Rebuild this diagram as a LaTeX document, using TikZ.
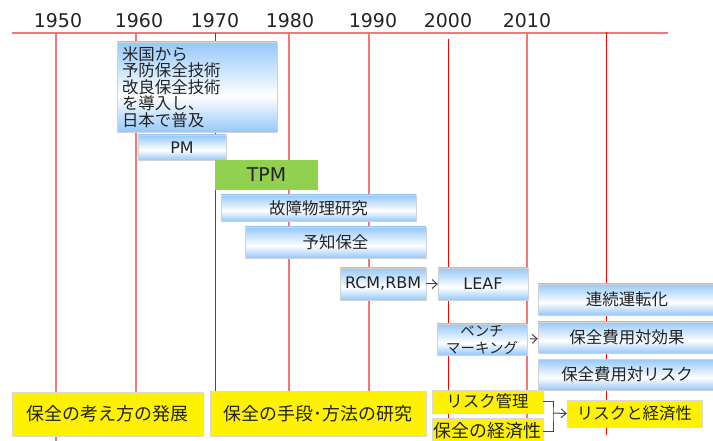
\documentclass[tikz,border=0pt]{standalone}
\usepackage{fontspec}
\usetikzlibrary{arrows.meta}
\setmainfont{Noto Sans CJK JP}
\newfontfamily\latinfont{DejaVu Sans}
\newcommand\boxfont[2]{\fontsize{#1}{#2}\selectfont}
\definecolor{linered}{RGB}{242,120,120}
\definecolor{boxblue}{RGB}{150,200,250}
\definecolor{tpmgreen}{RGB}{146,208,80}
\definecolor{textgray}{RGB}{35,35,35}
\pgfdeclareverticalshading{boxshade}{100bp}{color(0bp)=(boxblue); color(25bp)=(boxblue); color(45bp)=(white); color(75bp)=(boxblue); color(100bp)=(boxblue)}
\tikzset{
	year/.style={text=textgray, font=\latinfont\boxfont{19}{19}},
	yearline/.style={draw=linered, line width=1.8bp},
	yearlinethin/.style={draw=red, line width=0.9bp},
	bluebox/.style={draw=gray!35, shade, shading=boxshade, text=textgray, inner sep=0pt},
	yellowbox/.style={draw=gray!30, fill=yellow, text=textgray, inner sep=0pt},
	link/.style={-{Straight Barb[length=5bp, width=9bp]}, draw=textgray!85, line width=1bp},
}
\begin{document}
\begin{tikzpicture}[x=1bp, y=-1bp]
			\useasboundingbox (0,0) rectangle (713,441);
			
			% Time axis
			\draw[yearline, line width=1.4bp] (12,33) -- (668,33);
			\foreach \yr/\xl in {1950/58, 1960/139, 1970/215, 1980/290, 1990/373, 2000/448, 2010/527} {
				\node[year] (y\yr) at (\xl,21) {\yr};
			}
			\foreach \x/\yb in {56/441, 136/392, 289/392, 369/392, 527/441} {
				\draw[yearline] (\x,33) -- (\x,\yb);
			}
			\draw[yearlinethin] (215,33) -- (215,392);
			\draw[yearlinethin] (448,39) -- (448,441);
			\draw[yearlinethin] (606,32) -- (606,435);
			
			% Methods (blue bars)
			\node[bluebox, minimum width=160bp, minimum height=90bp, text width=150bp, align=left, font=\boxfont{16.5}{16.6}] (intro) at (197,87) {米国から\\予防保全技術\\改良保全技術\\を導入し、\\日本で普及};
			\node[bluebox, minimum width=88bp, minimum height=25bp, font=\latinfont\boxfont{16}{16}] (pm) at (182,147.5) {PM};
			\node[fill=tpmgreen, text=textgray, inner sep=0pt, minimum width=103bp, minimum height=30bp, font=\latinfont\boxfont{19}{19}] (tpm) at (266.5,175) {TPM};
			\node[bluebox, minimum width=195bp, minimum height=26bp, font=\boxfont{16.5}{16.5}] (physics) at (318.5,208) {故障物理研究};
			\node[bluebox, minimum width=181bp, minimum height=31bp, font=\boxfont{16.5}{16.5}] (predict) at (335.5,242.5) {予知保全};
			\node[bluebox, minimum width=86bp, minimum height=32bp, font=\latinfont\boxfont{16}{16}] (rcm) at (383,284) {RCM,RBM};
			\node[bluebox, minimum width=90bp, minimum height=32bp, font=\latinfont\boxfont{16}{16}] (leaf) at (483,284) {LEAF};
			\node[bluebox, minimum width=90bp, minimum height=31bp, align=center, font=\boxfont{14.5}{17}] (bench) at (482,339.5) {ベンチ\\マーキング};
			\node[bluebox, minimum width=178bp, minimum height=31bp, font=\boxfont{16.5}{16.5}] (continuous) at (627,299.5) {連続運転化};
			\node[bluebox, minimum width=178bp, minimum height=31bp, font=\boxfont{16.5}{16.5}] (costeff) at (627,337.5) {保全費用対効果};
			\node[bluebox, minimum width=178bp, minimum height=31bp, font=\boxfont{16.5}{16.5}] (costrisk) at (627,374.5) {保全費用対リスク};
			
			\draw[link] (rcm) -- (leaf);
			\draw[link, shorten <=3bp] (bench) -- (costeff);
			
			% Themes (yellow)
			\node[yellowbox, minimum width=191bp, minimum height=44bp, font=\boxfont{18}{18}] (idea) at (107.5,414) {保全の考え方の発展};
			\node[yellowbox, minimum width=216bp, minimum height=45bp, font=\boxfont{18}{18}] (means) at (318,413.5) {保全の手段･方法の研究};
			\node[yellowbox, minimum width=111bp, minimum height=23bp, font=\boxfont{16.5}{16.5}] (riskmg) at (487.5,401.5) {リスク管理};
			\node[yellowbox, minimum width=111bp, minimum height=26bp, font=\boxfont{18}{18}] (econ) at (487.5,431) {保全の経済性};
			\node[yellowbox, minimum width=135bp, minimum height=27bp, font=\boxfont{16.5}{16.5}] (riskecon) at (634.5,413.5) {リスクと経済性};
			
			\coordinate (brk) at (553,413);
			\draw[textgray!85, line width=1bp] (riskmg.east) -| (brk) |- (econ.east);
			\draw[link] (brk) -- (riskecon.west);
		\end{tikzpicture}
\end{document}
